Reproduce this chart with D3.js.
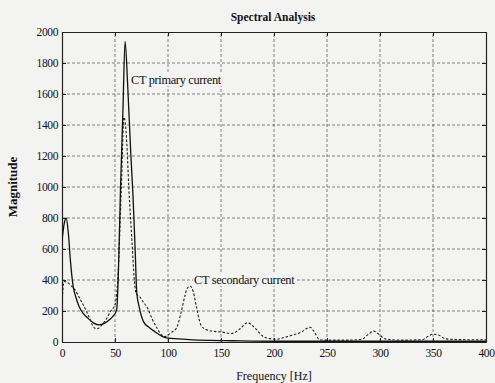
<!DOCTYPE html>
<html>
<head>
<script src="https://d3js.org/d3.v7.min.js"></script>
<title>Spectral Analysis</title>
<style>
  body { margin: 0; background: #f3f3f1; }
  text { font-family: "Liberation Serif", "DejaVu Serif", serif; fill: #111; }
</style>
</head>
<body>
<svg id="chart" width="495" height="383"></svg>
<script>
// values (frequency in Hz, magnitude)
let primaryFreq = [0, 2, 4, 6, 8, 10.5, 13, 16, 20, 25, 30, 35, 40, 45, 48, 51.5, 53, 55, 57.5, 59.5, 62, 65, 67, 69, 70.5, 73, 77, 82, 88, 95, 100, 110, 120, 140, 160, 200, 250, 300, 350, 400];
let primaryMag = [650, 760, 800, 700, 520, 360, 290, 230, 185, 150, 122, 110, 120, 145, 165, 206, 400, 940, 1500, 1940, 1650, 1200, 940, 600, 320, 220, 130, 95, 65, 35, 25, 20, 15, 10, 8, 5, 5, 5, 5, 5];

let secondaryFreq = [0, 2, 5, 9, 12, 16, 20, 25, 30, 33, 37, 42, 46, 50, 53, 56, 58.5, 61, 63, 66, 68, 70, 73, 77, 80, 85, 90, 94, 97, 100, 104, 108, 112, 116, 118, 121, 124, 127, 131, 136, 142, 150, 160, 168, 175, 182, 190, 196, 203, 210, 218, 226, 234, 238, 243, 250, 270, 283, 289, 294, 299, 305, 320, 340, 345, 350, 355, 362, 380, 400];
let secondaryMag = [250, 390, 385, 360, 340, 290, 240, 170, 95, 85, 105, 150, 200, 240, 450, 1000, 1450, 1300, 1000, 650, 420, 310, 295, 255, 228, 150, 85, 45, 35, 45, 65, 90, 180, 300, 345, 360, 320, 220, 110, 80, 70, 65, 55, 85, 125, 90, 35, 22, 18, 30, 45, 65, 95, 65, 15, 12, 12, 18, 50, 70, 50, 20, 12, 15, 35, 50, 45, 20, 15, 15];

let xTicks = [0, 50, 100, 150, 200, 250, 300, 350, 400];
let yTicks = [0, 200, 400, 600, 800, 1000, 1200, 1400, 1600, 1800, 2000];

let margin = {left: 62, right: 9, top: 32, bottom: 41};
let width = 495, height = 383;
let bg = "#f3f3f1";

let svg = d3.select("#chart");

let x = d3.scaleLinear().domain([0, 400]).range([margin.left, width - margin.right]);
let y = d3.scaleLinear().domain([0, 2000]).range([height - margin.bottom, margin.top]);

// grid
let grid = svg.append("g").attr("stroke", "#333").attr("stroke-width", 0.6).attr("stroke-dasharray", "3,2");
grid.selectAll(".gx").data(xTicks.slice(1, -1)).enter().append("line")
  .attr("x1", d => x(d)).attr("x2", d => x(d))
  .attr("y1", y(0)).attr("y2", y(2000));
grid.selectAll(".gy").data(yTicks.slice(1, -1)).enter().append("line")
  .attr("y1", d => y(d)).attr("y2", d => y(d))
  .attr("x1", x(0)).attr("x2", x(400));

// axes, ticks inside like matlab
let fmt = d3.format("d");
let ax = svg.append("g").attr("transform", `translate(0,${y(0)})`)
  .call(d3.axisBottom(x).tickValues(xTicks).tickFormat(fmt).tickSizeInner(-4).tickSizeOuter(0).tickPadding(7));
let ay = svg.append("g").attr("transform", `translate(${x(0)},0)`)
  .call(d3.axisLeft(y).tickValues(yTicks).tickFormat(fmt).tickSizeInner(-4).tickSizeOuter(0).tickPadding(4));
let at = svg.append("g").attr("transform", `translate(0,${y(2000)})`)
  .call(d3.axisTop(x).tickValues(xTicks).tickFormat("").tickSizeInner(-4).tickSizeOuter(0));
let ar = svg.append("g").attr("transform", `translate(${x(400)},0)`)
  .call(d3.axisRight(y).tickValues(yTicks).tickFormat("").tickSizeInner(-4).tickSizeOuter(0));

[ax, ay, at, ar].forEach(a => {
  a.selectAll("path").attr("stroke", "#222").attr("stroke-width", 1.2);
  a.selectAll("line").attr("stroke", "#222");
  a.selectAll("text").style("font-family", "Liberation Serif").style("font-size", "11.5px")
    .style("letter-spacing", "-0.4px").attr("fill", "#111");
});

// lines
svg.append("clipPath").attr("id", "clip").append("rect")
  .attr("x", x(0)).attr("y", y(2000)).attr("width", x(400) - x(0)).attr("height", y(0) - y(2000));

let line = d3.line().x(d => x(d[0])).y(d => y(d[1])).curve(d3.curveMonotoneX);

svg.append("path")
  .datum(d3.zip(secondaryFreq, secondaryMag))
  .attr("clip-path", "url(#clip)")
  .attr("fill", "none").attr("stroke", "#222").attr("stroke-width", 1.1)
  .attr("stroke-dasharray", "2.5,1.8")
  .attr("d", line);

svg.append("path")
  .datum(d3.zip(primaryFreq, primaryMag))
  .attr("clip-path", "url(#clip)")
  .attr("fill", "none").attr("stroke", "#111").attr("stroke-width", 1.3)
  .attr("d", line);

// in-plot labels, with a patch of background behind like matlab text
function label(px, py, str) {
  let t = svg.append("text").attr("x", px).attr("y", py)
    .style("font-size", "12.3px").style("letter-spacing", "-0.3px").text(str);
  let b = t.node().getBBox();
  svg.insert("rect", () => t.node()).attr("x", b.x - 1).attr("y", b.y + 1)
    .attr("width", b.width + 2).attr("height", b.height - 2).attr("fill", bg);
}
label(131, 84, "CT primary current");
label(194, 284, "CT secondary current");

svg.append("text").attr("x", 273).attr("y", 21).attr("text-anchor", "middle")
  .style("font-size", "11.5px").style("font-weight", "bold").text("Spectral Analysis");
svg.append("text").attr("x", 274).attr("y", 380).attr("text-anchor", "middle")
  .style("font-size", "12px").text("Frequency [Hz]");
svg.append("text").attr("transform", "translate(17,187) rotate(-90)").attr("text-anchor", "middle")
  .style("font-size", "13px").style("font-weight", "bold").text("Magnitude");
</script>
</body>
</html>
